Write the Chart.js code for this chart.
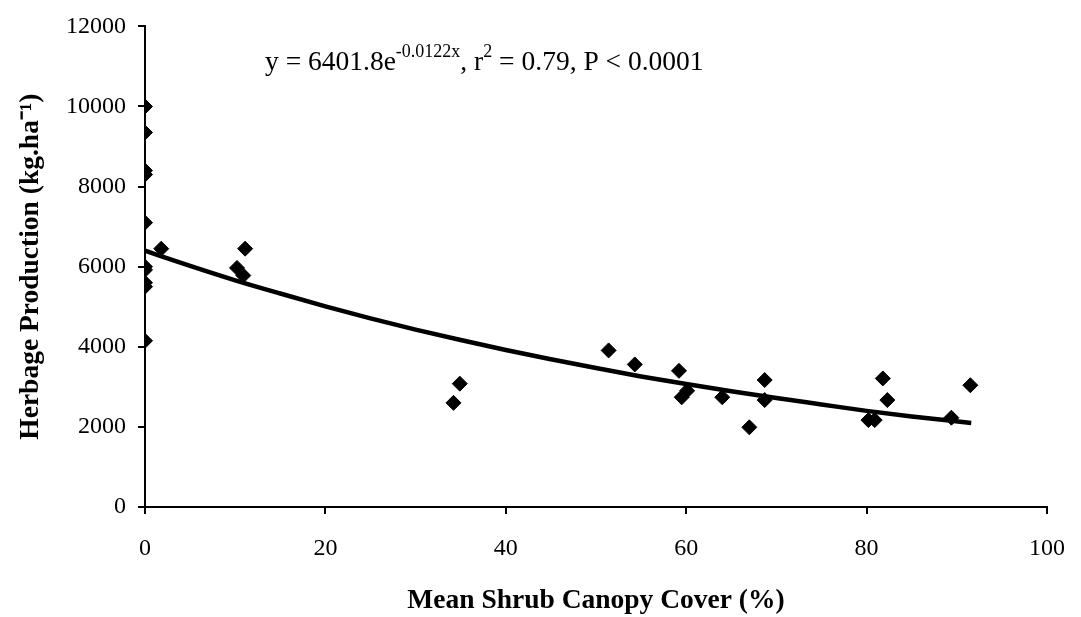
<!DOCTYPE html>
<html>
<head>
<meta charset="utf-8">
<script src="https://cdn.jsdelivr.net/npm/chart.js@4.4.1/dist/chart.umd.min.js"></script>
<style>
  html, body { margin: 0; padding: 0; background: #fff; }
  #wrap { width: 1081px; height: 617px; position: relative; }
</style>
</head>
<body>
<div id="wrap"><canvas id="chart"></canvas></div>
<script>
// Herbage production vs. mean shrub canopy cover, with exponential fit

// observed plots
const coverX = [0, 0, 0, 0, 0, 0, 0, 0, 0, 0,
  1.8, 10.2, 10.9, 11.1, 34.2, 34.9,
  51.4, 54.3, 59.2, 59.5, 60.1, 64.0, 67.0, 68.7, 68.7,
  80.2, 80.9, 81.8, 82.3, 89.4, 91.5];
const herbage = [10000, 9350, 8400, 8300, 7100, 6000, 5920, 5600, 5500, 4150,
  6450, 5970, 5780, 6450, 2600, 3080,
  3910, 3560, 3400, 2740, 2900, 2740, 1990, 3170, 2670,
  2170, 2170, 3210, 2670, 2230, 3040];

// fitted curve
const fitX = [0, 5, 10, 15, 20, 25, 30, 35, 40, 45, 50, 55, 60, 65, 70, 75, 80, 85, 91.6];
const fitY = [6400, 6020, 5660, 5330, 5010, 4710, 4430, 4170, 3920, 3690, 3470, 3260, 3070, 2890, 2720, 2560, 2400, 2260, 2100];

const xTicks = [0, 20, 40, 60, 80, 100];
const yTicks = [0, 2000, 4000, 6000, 8000, 10000, 12000];

// equation label: [text, superscript?]
const equation = [
  ['y = 6401.8e', false], ['-0.0122x', true], [', r', false], ['2', true], [' = 0.79, P < 0.0001', false],
];

const SERIF = "'Liberation Serif', 'Times New Roman', serif";

const equationLabel = {
  id: 'equationLabel',
  afterDraw(chart) {
    const ctx = chart.ctx;
    ctx.save();
    ctx.fillStyle = '#000';
    ctx.textBaseline = 'alphabetic';
    let x = 265;
    const base = 70;
    equation.forEach(([txt, sup]) => {
      ctx.font = (sup ? 18 : 27.5) + 'px ' + SERIF;
      ctx.fillText(txt, x, sup ? base - 13 : base);
      x += ctx.measureText(txt).width;
    });
    ctx.restore();
  },
};

const ctx = document.getElementById('chart').getContext('2d');
const chart = new Chart(ctx, {
  type: 'scatter',
  data: {
    datasets: [
      {
        label: 'Plots',
        data: coverX.map((x, i) => ({ x, y: herbage[i] })),
        pointStyle: 'rectRot',
        pointRadius: 7.5,
        pointBackgroundColor: '#000',
        pointBorderColor: '#000',
        pointBorderWidth: 1,
        order: 1,
      },
      {
        label: 'Fit',
        type: 'line',
        data: fitX.map((x, i) => ({ x, y: fitY[i] })),
        borderColor: '#000',
        borderWidth: 4.5,
        pointRadius: 0,
        tension: 0.3,
        cubicInterpolationMode: 'monotone',
        fill: false,
        order: 0,
      },
    ],
  },
  options: {
    responsive: true,
    maintainAspectRatio: false,
    animation: false,
    layout: { padding: { top: 26, right: 34, left: 0, bottom: 0 } },
    plugins: { legend: { display: false }, tooltip: { enabled: false } },
    scales: {
      x: {
        type: 'linear',
        min: 0, max: 100,
        afterBuildTicks: s => { s.ticks = xTicks.map(v => ({ value: v })); },
        afterFit: s => { s.height = 110; s.paddingLeft = 0; s.paddingRight = 0; },
        ticks: { color: '#000', font: { family: SERIF, size: 24 }, padding: 20, maxRotation: 0, callback: v => String(v) },
        grid: { drawOnChartArea: false, drawTicks: true, tickLength: 7, color: '#000', lineWidth: 2 },
        border: { color: '#000', width: 2 },
        title: {
          display: true,
          text: 'Mean Shrub Canopy Cover (%)',
          color: '#000',
          font: { family: SERIF, size: 27.5, weight: 'bold' },
          padding: { top: 0, bottom: 0 },
        },
      },
      y: {
        min: 0, max: 12000,
        afterBuildTicks: s => { s.ticks = yTicks.map(v => ({ value: v })); },
        afterFit: s => { s.width = 145; },
        ticks: { color: '#000', font: { family: SERIF, size: 24 }, padding: 12, callback: v => String(v) },
        grid: { drawOnChartArea: false, drawTicks: true, tickLength: 7, color: '#000', lineWidth: 2 },
        border: { color: '#000', width: 2 },
        title: {
          display: true,
          text: 'Herbage Production (kg.ha\u207B\u00B9)',
          color: '#000',
          font: { family: SERIF, size: 27.5, weight: 'bold' },
          padding: { top: 14, bottom: 0 },
        },
      },
    },
  },
  plugins: [equationLabel],
});
</script>
</body>
</html>
